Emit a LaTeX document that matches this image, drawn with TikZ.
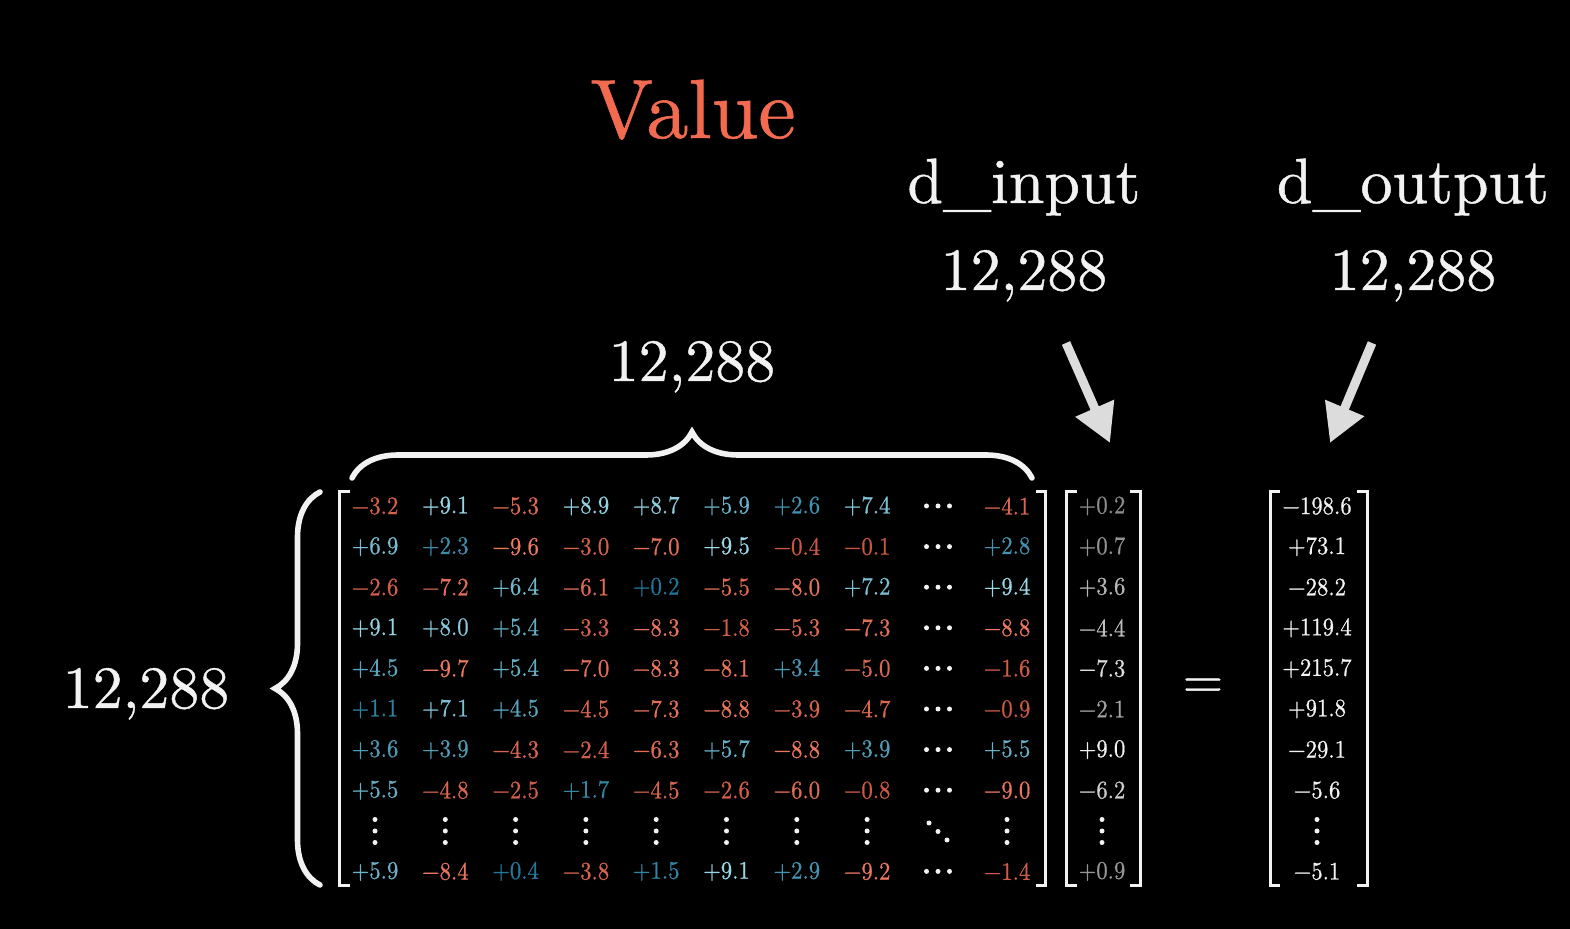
\documentclass[tikz,border=0pt]{standalone}
\usepackage{fontspec}
\setmainfont{lmroman10-regular.otf}
\newfontfamily\heavyfont{lmroman10-regular.otf}[FakeBold=0.7]
\newfontfamily\cellfont{lmroman10-regular.otf}[FakeBold=0.8]
\usetikzlibrary{arrows.meta,decorations.pathreplacing}
\definecolor{titlered}{HTML}{F26A4F}
\definecolor{redlo}{HTML}{C85642}
\definecolor{redhi}{HTML}{F07A63}
\definecolor{bluelo}{HTML}{1F7598}
\definecolor{bluehi}{HTML}{A2DDEB}
\definecolor{arrowgray}{HTML}{DCDCDC}
\definecolor{inkwhite}{HTML}{F2F2F2}
\newcommand\setcellcol[1]{%
  \pgfmathtruncatemacro\pc{min(100,abs(#1)*10)}%
  \ifdim #1pt<0pt \colorlet{cc}{redhi!\pc!redlo}\else\colorlet{cc}{bluehi!\pc!bluelo}\fi}
\newcommand\setgraycol[1]{%
  \pgfmathtruncatemacro\pc{min(100,55+45*abs(#1)/10)}%
  \colorlet{cc}{white!\pc!black}}
\newcommand\signednum[1]{%
  \ifdim #1pt<0pt −\else +\fi
  \pgfmathparse{abs(#1)}%
  \pgfmathprintnumber[fixed,fixed zerofill,precision=1,assume math mode=true]{\pgfmathresult}}
\newcommand\mrow[3]{%
  \foreach \v [count=\j] in {#3} {%
    \pgfmathsetmacro\xx{\j<9 ? 375+70.3*(\j-1) : 1007}%
    \setcellcol{\v}%
    \node[cell,text=cc] (m-#1-\j) at (\xx,#2) {\signednum{\v}};
  }}
\newcommand\vdts[2]{\fill[inkwhite] (#1,#2-11.5) circle[radius=2.5] (#1,#2) circle[radius=2.5] (#1,#2+11.5) circle[radius=2.5];}
\newcommand\hdts[2]{\fill[inkwhite] (#1-11.5,#2) circle[radius=2.5] (#1,#2) circle[radius=2.5] (#1+11.5,#2) circle[radius=2.5];}
\tikzset{
  cell/.style={inner sep=0pt,xscale=0.9,font=\cellfont\fontsize{12.6}{14}\selectfont},
  biglab/.style={inner sep=0pt,anchor=base,text=inkwhite,font=\heavyfont\fontsize{30}{36}\selectfont},
  dimlab/.style={inner sep=0pt,anchor=base,text=inkwhite,font=\heavyfont\fontsize{32}{40}\selectfont},
  bracketline/.style={draw=inkwhite,line width=1.5pt},
  bracepath/.style={draw=inkwhite,line width=2.8pt,line cap=round,decorate},
  bigarrow/.style={draw=arrowgray,line width=4.5pt,-{Triangle[width=20pt,length=19pt]}},
}
\begin{document}
\begin{tikzpicture}[x=0.5pt,y=-0.5pt]
\useasboundingbox (0,0) rectangle (1570,929);
\fill[black] (0,0) rectangle (1570,929);
% titles
\node[inner sep=0pt,anchor=base,text=titlered,font=\heavyfont\fontsize{42}{50}\selectfont] (title) at (693,138) {Value};
\node[dimlab] (dinlab) at (1024,203) {d\_input};
\node[biglab] (dinnum) at (1024,290) {12,288};
\node[dimlab] (doutlab) at (1413,203) {d\_output};
\node[biglab] (doutnum) at (1413,290) {12,288};
\node[biglab] (collab) at (692,381) {12,288};
\node[biglab] (rowlab) at (146,708) {12,288};
\node[inner sep=0pt,text=inkwhite,font=\heavyfont\fontsize{26}{30}\selectfont] (eq) at (1203,688) {=};
% arrows
\coordinate (a1s) at (1066,343);
\coordinate (a1e) at (1110,443);
\coordinate (a2s) at (1372,343);
\coordinate (a2e) at (1330,443);
\draw[bigarrow] (a1s) -- (a1e);
\draw[bigarrow] (a2s) -- (a2e);
% braces
\coordinate (tb1) at (352,478);
\coordinate (tb2) at (1032,478);
\draw[bracepath,decoration={brace,amplitude=23pt}] (tb1) -- (tb2);
\coordinate (lb1) at (320,885);
\coordinate (lb2) at (320,492);
\draw[bracepath,decoration={brace,amplitude=22.5pt}] (lb1) -- (lb2);
% matrix
\mrow{1}{506}{-3.2,9.1,-5.3,8.9,8.7,5.9,2.6,7.4,-4.1}
\mrow{2}{546.6}{6.9,2.3,-9.6,-3.0,-7.0,9.5,-0.4,-0.1,2.8}
\mrow{3}{587.2}{-2.6,-7.2,6.4,-6.1,0.2,-5.5,-8.0,7.2,9.4}
\mrow{4}{627.8}{9.1,8.0,5.4,-3.3,-8.3,-1.8,-5.3,-7.3,-8.8}
\mrow{5}{668.4}{4.5,-9.7,5.4,-7.0,-8.3,-8.1,3.4,-5.0,-1.6}
\mrow{6}{709}{1.1,7.1,4.5,-4.5,-7.3,-8.8,-3.9,-4.7,-0.9}
\mrow{7}{749.6}{3.6,3.9,-4.3,-2.4,-6.3,5.7,-8.8,3.9,5.5}
\mrow{8}{790.2}{5.5,-4.8,-2.5,1.7,-4.5,-2.6,-6.0,-0.8,-9.0}
\mrow{10}{871.4}{5.9,-8.4,0.4,-3.8,1.5,9.1,2.9,-9.2,-1.4}
\foreach \y in {506,546.6,587.2,627.8,668.4,709,749.6,790.2,871.4} {\hdts{938}{\y}}
\foreach \xx in {375,445.3,515.6,585.9,656.2,726.5,796.8,867.1,1007} {\vdts{\xx}{831}}
\fill[inkwhite] (929,823) circle[radius=2.5] (938,831.5) circle[radius=2.5] (947,840) circle[radius=2.5];
\draw[bracketline] (350,492) -- (339,492) -- (339,886) -- (350,886);
\draw[bracketline] (1036,492) -- (1045,492) -- (1045,886) -- (1036,886);
% input vector
\foreach \v/\y [count=\i] in {0.2/506,0.7/546.6,3.6/587.2,-4.4/627.8,-7.3/668.4,-2.1/709,9.0/749.6,-6.2/790.2,0.9/871.4} {%
  \setgraycol{\v}%
  \node[cell,text=cc] (v-\i) at (1102,\y) {\signednum{\v}};
}
\vdts{1102}{831}
\draw[bracketline] (1077,492) -- (1066,492) -- (1066,886) -- (1077,886);
\draw[bracketline] (1130,492) -- (1140,492) -- (1140,886) -- (1130,886);
% output vector
\foreach \t/\y [count=\i] in {−198.6/506,+73.1/546.6,−28.2/587.2,+119.4/627.8,+215.7/668.4,+91.8/709,−29.1/749.6,−5.6/790.2,−5.1/871.4} {%
  \node[cell,text=inkwhite] (o-\i) at (1317,\y) {\t};
}
\vdts{1317}{831}
\draw[bracketline] (1280,492) -- (1270,492) -- (1270,886) -- (1280,886);
\draw[bracketline] (1357,492) -- (1367,492) -- (1367,886) -- (1357,886);
\end{tikzpicture}
\end{document}
